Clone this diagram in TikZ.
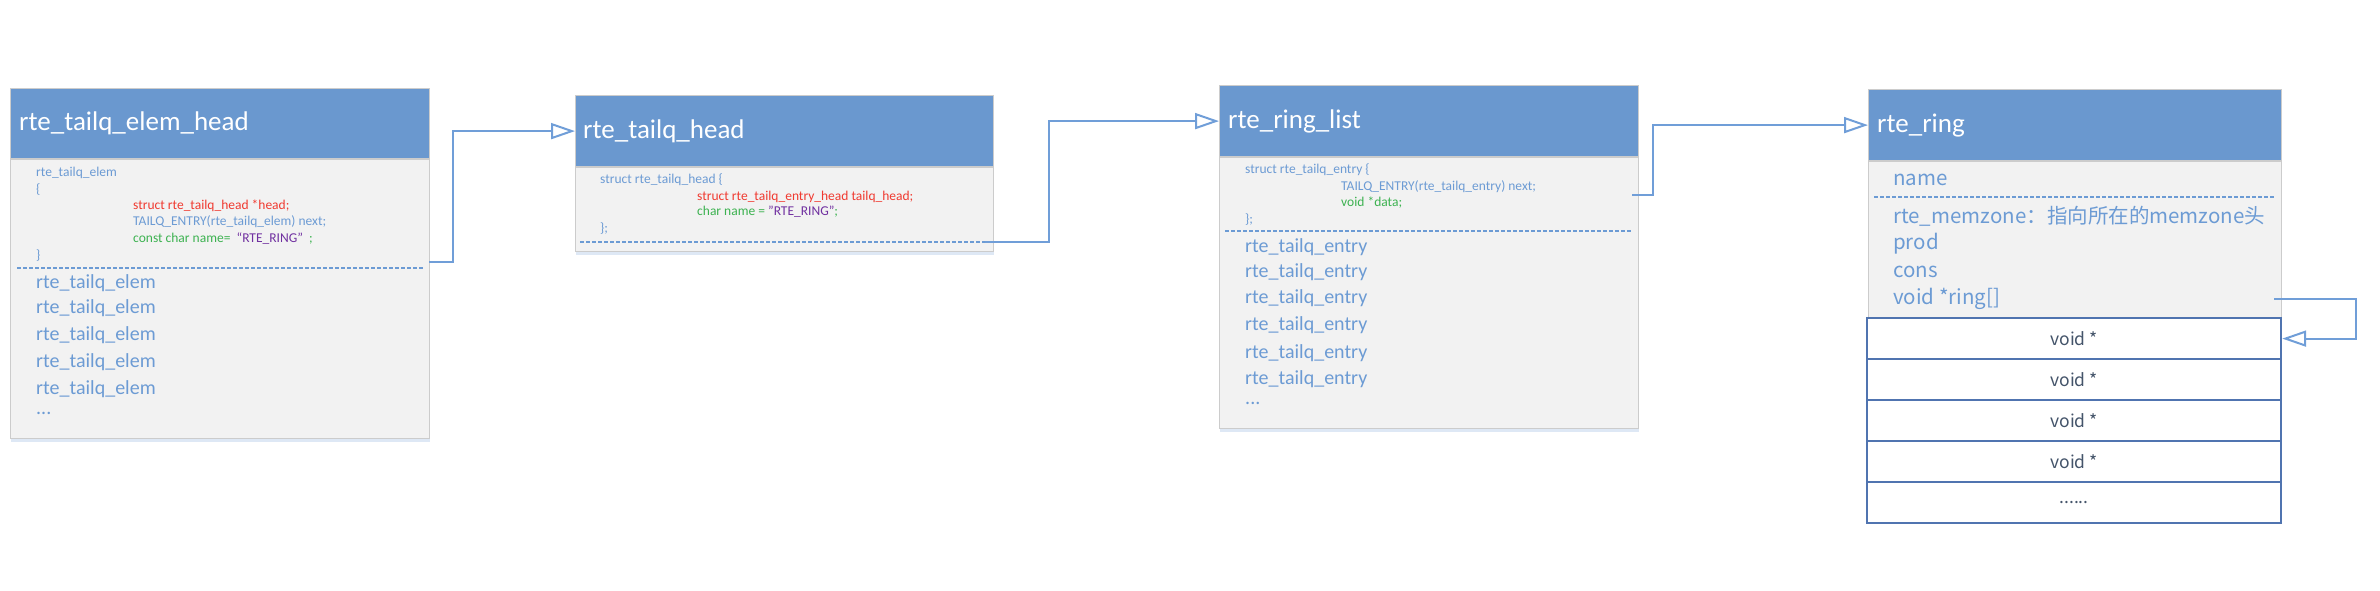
\documentclass[tikz,border=0pt]{standalone}
\usepackage{fontspec}
\setmainfont{Carlito}
\newfontfamily\cjk{Noto Sans CJK SC}
\usepackage{tikz}
\usetikzlibrary{arrows.meta,positioning,shadows}

\definecolor{hdrblue}{RGB}{106,152,207}
\definecolor{bodygrey}{RGB}{242,242,242}
\definecolor{boxline}{RGB}{204,204,204}
\definecolor{txtblue}{RGB}{108,155,212}
\definecolor{linkblue}{RGB}{112,158,216}
\definecolor{codered}{RGB}{240,58,48}
\definecolor{codegreen}{RGB}{60,178,80}
\definecolor{codepurple}{RGB}{112,48,160}
\definecolor{cellblue}{RGB}{80,116,176}
\definecolor{celltext}{RGB}{68,84,106}
\definecolor{shade}{RGB}{214,226,242}

\tikzset{
  hdr/.style={draw=boxline, line width=1.2pt, fill=hdrblue, anchor=north west, inner sep=0pt},
  body/.style={draw=boxline, line width=1.2pt, fill=bodygrey, anchor=north west, inner sep=0pt,
    drop shadow={fill=shade, opacity=0.8, shadow xshift=0pt, shadow yshift=-3pt}},
  title/.style={text=white, font=\fontsize{27}{32}\selectfont, inner sep=0pt, anchor=west},
  code/.style={text=txtblue, font=\fontsize{13.5}{16}\selectfont, inner sep=0pt, anchor=west},
  item/.style={text=txtblue, font=\fontsize{20}{24}\selectfont, inner sep=0pt, anchor=west},
  field/.style={text=txtblue, font=\cjk\fontsize{20.5}{24}\selectfont, inner sep=0pt, anchor=west},
  cell/.style={draw=cellblue, line width=2.2pt, fill=white, anchor=north west,
    minimum width=414pt, minimum height=41pt, inner sep=0pt,
    text=celltext, font=\cjk\fontsize{17.5}{20}\selectfont},
  divider/.style={draw=txtblue, line width=1.3pt, dash pattern=on 3.5pt off 2.5pt},
  link/.style={draw=linkblue, line width=2pt, -{Triangle[open,length=24pt,width=16pt]}}
}

\begin{document}
\begin{tikzpicture}[x=1pt,y=-1pt]
  \useasboundingbox (0,0) rectangle (2380,591);

  % rte_tailq_elem_head
  \node[hdr, minimum width=419pt, minimum height=70pt] (elemhdr) at (10,88) {};
  \node[title, right=9pt of elemhdr.west] (elemtitle) {rte\_tailq\_elem\_head};
  \node[body, minimum width=419pt, minimum height=279pt] (elembody) at (elemhdr.south west) {};
  \node[code] (elemc1) at (36,173) {rte\_tailq\_elem};
  \node[code] (elemc2) at (36,190) {\{};
  \node[code, text=codered] (elemc3) at (133,206) {struct rte\_tailq\_head *head;};
  \node[code] (elemc4) at (133,222) {TAILQ\_ENTRY(rte\_tailq\_elem) next;};
  \node[code, text=codegreen] (elemc5) at (133,239) {const char name=\ \ \textcolor{codepurple}{“RTE\_RING”}\ \ ;};
  \node[code] (elemc6) at (36,256) {\}};
  \draw[divider] (17,268) -- (423,268);
  \node[item] (elem1) at (36,283) {rte\_tailq\_elem};
  \node[item] (elem2) at (36,308) {rte\_tailq\_elem};
  \node[item] (elem3) at (36,335) {rte\_tailq\_elem};
  \node[item] (elem4) at (36,362) {rte\_tailq\_elem};
  \node[item] (elem5) at (36,389) {rte\_tailq\_elem};
  \node[item] (elem6) at (36,413) {...};

  % rte_tailq_head
  \node[hdr, minimum width=418pt, minimum height=71pt] (tqhdr) at (575,95) {};
  \node[title, right=8pt of tqhdr.west] (tqtitle) {rte\_tailq\_head};
  \node[body, minimum width=418pt, minimum height=84pt] (tqbody) at (tqhdr.south west) {};
  \node[code] (tqc1) at (600,180) {struct rte\_tailq\_head \{};
  \node[code, text=codered] (tqc2) at (697,197) {struct rte\_tailq\_entry\_head tailq\_head;};
  \node[code, text=codegreen] (tqc3) at (697,212) {char name = \textcolor{codepurple}{"RTE\_RING"};};
  \node[code] (tqc4) at (600,229) {\};};
  \draw[divider] (580,242) -- (985,242);

  % rte_ring_list
  \node[hdr, minimum width=419pt, minimum height=71pt] (listhdr) at (1219,85) {};
  \node[title, right=9pt of listhdr.west] (listtitle) {rte\_ring\_list};
  \node[body, minimum width=419pt, minimum height=271pt] (listbody) at (listhdr.south west) {};
  \node[code] (listc1) at (1245,170) {struct rte\_tailq\_entry \{};
  \node[code] (listc2) at (1341,187) {TAILQ\_ENTRY(rte\_tailq\_entry) next;};
  \node[code, text=codegreen] (listc3) at (1341,203) {void *data;};
  \node[code] (listc4) at (1245,220) {\};};
  \draw[divider] (1225,231) -- (1632,231);
  \node[item] (entry1) at (1245,247) {rte\_tailq\_entry};
  \node[item] (entry2) at (1245,272) {rte\_tailq\_entry};
  \node[item] (entry3) at (1245,298) {rte\_tailq\_entry};
  \node[item] (entry4) at (1245,325) {rte\_tailq\_entry};
  \node[item] (entry5) at (1245,353) {rte\_tailq\_entry};
  \node[item] (entry6) at (1245,379) {rte\_tailq\_entry};
  \node[item] (entry7) at (1245,403) {...};

  % rte_ring
  \node[hdr, minimum width=413pt, minimum height=71pt] (ringhdr) at (1868,89) {};
  \node[title, right=9pt of ringhdr.west] (ringtitle) {rte\_ring};
  \node[body, minimum width=413pt, minimum height=157pt] (ringbody) at (ringhdr.south west) {};
  \node[field] (name) at (1893,180) {name};
  \draw[divider] (1874,197) -- (2275,197);
  \node[field] (memzone) at (1893,216) {rte\_memzone：指向所在的memzone头};
  \node[field] (prod) at (1893,244) {prod};
  \node[field] (cons) at (1893,272) {cons};
  \node[field] (ringarr) at (1893,299) {void *ring[]};

  % ring slots
  \foreach \i in {1,...,4}
    \node[cell] (cell\i) at (1866,{276+41*\i}) {void *};
  \node[cell] (cell5) at (1866,481) {......};

  % links
  \coordinate (elemout) at (429,262);
  \coordinate (tqout) at (985,242);
  \coordinate (listout) at (1632,195);
  \coordinate (ringout) at (2274,299);
  \draw[link] (elemout) -- ++(24,0) |- (tqhdr.west);
  \draw[link] (tqout) -- ++(64,0) |- (listhdr.west);
  \draw[link] (listout) -- ++(21,0) |- (ringhdr.west);
  \draw[link] (ringout) -- ++(82,0) |- (cell1.east);
\end{tikzpicture}
\end{document}
